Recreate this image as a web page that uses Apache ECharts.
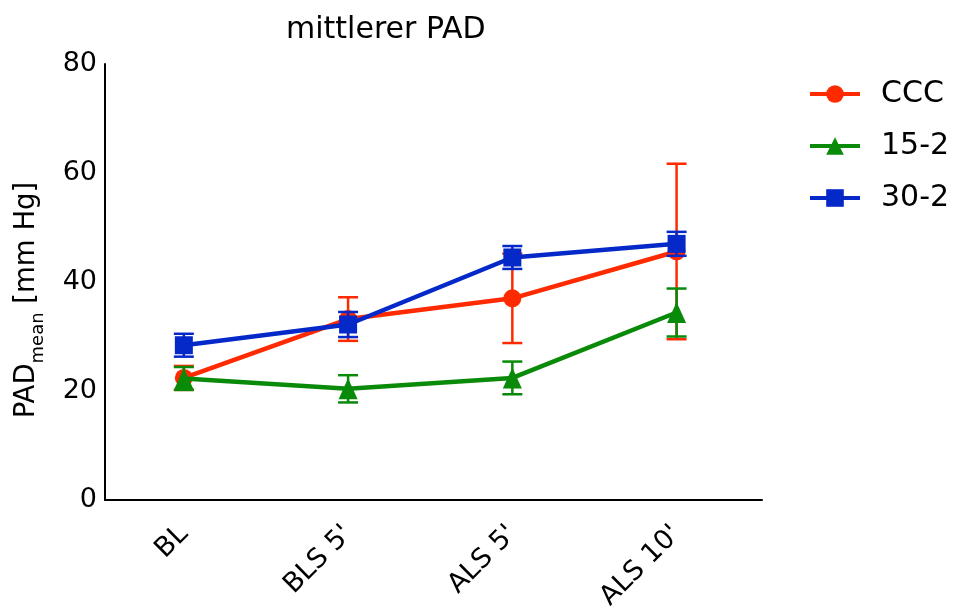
<!DOCTYPE html>
<html><head><meta charset="utf-8">
<script src="https://cdn.jsdelivr.net/npm/echarts@6/dist/echarts.min.js"></script>
<style>html,body{margin:0;padding:0;background:#fff}#c{width:959px;height:615px}</style>
</head><body><div id="c"></div>
<script>
const categories = ["BL", "BLS 5'", "ALS 5'", "ALS 10'"];
const yTicks = [0, 20, 40, 60, 80];
const cccMean = [22.4, 33.2, 37.0, 45.6];
const cccSD   = [2.2, 4.0, 8.2, 16.1];
const g152Mean = [22.3, 20.4, 22.4, 34.4];
const g152SD   = [2.1, 2.5, 3.0, 4.4];
const g302Mean = [28.4, 32.2, 44.5, 47.0];
const g302SD   = [2.1, 2.3, 2.1, 2.2];

const colors = {ccc:'#ff2a00', g15:'#098a09', g30:'#0528c8'};
const font = 'DejaVu Sans, Liberation Sans, Arial, sans-serif';

function errSeries(name, mean, sd, color, z){
  return {
    type:'custom', name: name+'_err', z:z, silent:true,
    data: mean.map((m,i)=>[i, m, sd[i]]),
    renderItem(params, api){
      const x = api.value(0), m = api.value(1), s = api.value(2);
      const top = api.coord([x, m+s]), bot = api.coord([x, m-s]);
      const hw = 10;
      const st = {stroke: color, lineWidth: 2.5};
      return {type:'group', children:[
        {type:'line', shape:{x1:top[0],y1:top[1],x2:bot[0],y2:bot[1]}, style:st},
        {type:'line', shape:{x1:top[0]-hw,y1:top[1],x2:top[0]+hw,y2:top[1]}, style:st},
        {type:'line', shape:{x1:bot[0]-hw,y1:bot[1],x2:bot[0]+hw,y2:bot[1]}, style:st}
      ]};
    }
  };
}
function lineSeries(name, mean, color, symbol, size, z){
  return {
    type:'line', name:name, z:z, data: mean.map((m,i)=>[i,m]),
    symbol:symbol, symbolSize:size, showAllSymbol:true,
    lineStyle:{color:color, width:4.5}, itemStyle:{color:color},
    emphasis:{disabled:true}
  };
}

const chart = echarts.init(document.getElementById('c'));
chart.setOption({
  animation:false,
  title:{text:'mittlerer PAD', left:281, top:10, textStyle:{fontFamily:font, fontSize:30, fontWeight:'normal', color:'#000'}},
  legend:{
    orient:'vertical', left:803, top:74, itemWidth:50, itemHeight:22, itemGap:22,
    data:['CCC','15-2','30-2'],
    lineStyle:{width:4},
    textStyle:{fontFamily:font, fontSize:30, color:'#000', padding:[0,0,0,16]}
  },
  grid:{left:105, top:64, width:657, height:436},
  xAxis:{
    type:'value', min:-0.48, max:3.52,
    splitLine:{show:false},
    axisLine:{show:true, onZero:false, lineStyle:{color:'#000', width:2}},
    axisTick:{show:false},
    axisLabel:{customValues:[0,1,2,3], formatter:v=>categories[Math.round(v)] || '', rotate:45, margin:30,
      fontFamily:font, fontSize:27, color:'#000'}
  },
  yAxis:{
    type:'value', min:0, max:80, interval:20,
    splitLine:{show:false},
    axisLine:{show:true, onZero:false, lineStyle:{color:'#000', width:2}},
    axisTick:{show:false},
    axisLabel:{margin:8, fontFamily:font, fontSize:27, color:'#000', formatter:v=>yTicks.includes(v)?String(v):''},
    name:'{a|PAD}{b|mean}{a| [mm Hg]}', nameLocation:'middle', nameGap:64, nameRotate:90,
    nameTextStyle:{padding:[0,36,0,0], rich:{
      a:{fontFamily:font, fontSize:27.5, color:'#000', verticalAlign:'bottom'},
      b:{fontFamily:font, fontSize:18, color:'#000', verticalAlign:'bottom', padding:[0,0,-6,0]}
    }}
  },
  series:[
    errSeries('CCC', cccMean, cccSD, colors.ccc, 1),
    lineSeries('CCC', cccMean, colors.ccc, 'circle', 18, 2),
    errSeries('15-2', g152Mean, g152SD, colors.g15, 3),
    lineSeries('15-2', g152Mean, colors.g15, 'triangle', [19,21], 4),
    errSeries('30-2', g302Mean, g302SD, colors.g30, 5),
    lineSeries('30-2', g302Mean, colors.g30, 'rect', 18, 6)
  ]
});
</script></body></html>
